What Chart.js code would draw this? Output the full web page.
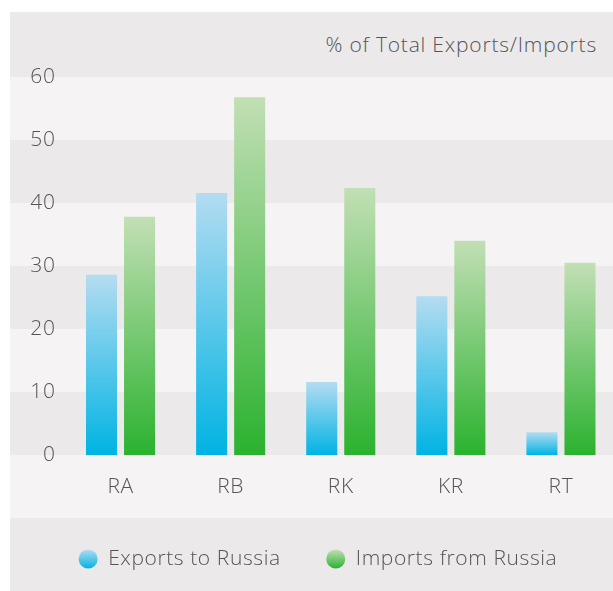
<!DOCTYPE html>
<html>
<head>
<meta charset="utf-8">
<script src="https://cdn.jsdelivr.net/npm/chart.js@4.4.1/dist/chart.umd.min.js"></script>
<style>
  html, body { margin: 0; padding: 0; background: #fff; }
  #frame { position: relative; width: 613px; height: 591px; overflow: hidden; }
  #panel { position: absolute; left: 10px; top: 12px; width: 620px; height: 600px; background: #ebe9ea; }
  #title { position: absolute; right: 16px; top: 32px; font: 300 21px "Open Sans", sans-serif;
           color: #555; letter-spacing: 0.8px; line-height: 25px; white-space: nowrap; }
  #wrap { position: absolute; left: 10px; top: 12px; width: 606px; height: 568px; }
</style>
</head>
<body>
<div id="frame">
  <div id="panel"></div>
  <div id="title">% of Total Exports/Imports</div>
  <div id="wrap"><canvas id="chart"></canvas></div>
</div>
<script>
// values
const categories = ['RA', 'RB', 'RK', 'KR', 'RT'];
const exportsToRussia = [28.6, 41.6, 11.6, 25.2, 3.6];
const importsFromRussia = [37.8, 56.8, 42.4, 34.0, 30.5];
const yTicks = [0, 10, 20, 30, 40, 50, 60];

const GRAY = '#ebe9ea';
const LIGHT = '#f5f3f4';
const TEXT = '#555';
const FONT = { family: '"Open Sans", sans-serif', size: 21, weight: 300 };

// per-bar vertical gradient, light at the top, saturated at the base
function barGradient(top, bottom) {
  return (ctx) => {
    const chart = ctx.chart;
    if (!chart.chartArea || !ctx.parsed) return bottom;
    const y = chart.scales.y;
    const y1 = y.getPixelForValue(ctx.parsed.y);
    const y0 = y.getPixelForValue(0);
    const g = chart.ctx.createLinearGradient(0, y1, 0, y0);
    g.addColorStop(0, top);
    g.addColorStop(1, bottom);
    return g;
  };
}

// the original type is set a little loose
const spacing = {
  id: 'spacing',
  beforeUpdate(chart) { chart.ctx.letterSpacing = '0.6px'; },
  beforeDraw(chart) { chart.ctx.letterSpacing = '0.6px'; }
};

// striped background bands between the y ticks
const bands = {
  id: 'bands',
  beforeDraw(chart) {
    const { ctx, scales: { y } } = chart;
    ctx.save();
    for (let i = 0; i < yTicks.length - 1; i++) {
      const a = y.getPixelForValue(yTicks[i]);
      const b = y.getPixelForValue(yTicks[i + 1]);
      ctx.fillStyle = i % 2 === 0 ? GRAY : LIGHT;
      ctx.fillRect(0, b, chart.width, a - b);
    }
    const y0 = y.getPixelForValue(0);
    ctx.fillStyle = LIGHT;
    ctx.fillRect(0, y0, chart.width, 63);
    ctx.restore();
  }
};

const EXP = ['#b4dcf1', '#00b3e3'];
const IMP = ['#c2dfb5', '#2bb22f'];

new Chart(document.getElementById('chart'), {
  type: 'bar',
  data: {
    labels: categories,
    datasets: [
      { label: 'Exports to Russia', data: exportsToRussia, backgroundColor: barGradient(EXP[0], EXP[1]), borderWidth: 0 },
      { label: 'Imports from Russia', data: importsFromRussia, backgroundColor: barGradient(IMP[0], IMP[1]), borderWidth: 0 }
    ]
  },
  options: {
    responsive: true,
    maintainAspectRatio: false,
    animation: false,
    layout: { padding: { top: 65, left: 10, right: 0, bottom: 0.5 } },
    datasets: { bar: { categoryPercentage: 0.691, barPercentage: 0.816 } },
    scales: {
      x: {
        grid: { display: false, drawTicks: false },
        border: { display: false },
        ticks: { color: TEXT, font: FONT, padding: 19 },
        afterFit(scale) { scale.height = 48; }
      },
      y: {
        min: 0, max: 60,
        grid: { display: false, drawTicks: false },
        border: { display: false },
        ticks: { stepSize: 10, color: TEXT, font: FONT, padding: 10 },
        afterFit(scale) { scale.width = 45.5; }
      }
    },
    plugins: {
      tooltip: { enabled: false },
      legend: {
        position: 'bottom',
        labels: {
          color: TEXT,
          font: FONT,
          usePointStyle: true,
          pointStyle: 'circle',
          boxHeight: 13.4,
          pointStyleWidth: 19,
          padding: 45.5,
          generateLabels(chart) {
            const cy = chart.height - 21;
            const cols = [EXP, IMP];
            return chart.data.datasets.map((ds, i) => {
              const g = chart.ctx.createLinearGradient(0, cy - 9.5, 0, cy + 9.5);
              g.addColorStop(0, cols[i][0]);
              g.addColorStop(1, cols[i][1]);
              return {
                text: ds.label, fillStyle: g, strokeStyle: g, lineWidth: 0,
                pointStyle: 'circle', fontColor: TEXT, datasetIndex: i, hidden: false
              };
            });
          }
        }
      }
    }
  },
  plugins: [spacing, bands]
});
</script>
</body>
</html>
